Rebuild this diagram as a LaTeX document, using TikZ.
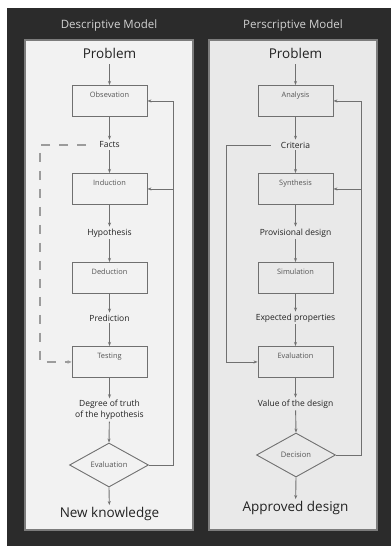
\documentclass[tikz,border=0pt]{standalone}
\usepackage{fontspec}
\setmainfont{Open Sans}
\usetikzlibrary{shapes.geometric,arrows.meta}
\definecolor{bgdark}{HTML}{2B2B2B}
\definecolor{panelL}{HTML}{F2F2F2}
\definecolor{panelR}{HTML}{E9E9E9}
\definecolor{framec}{HTML}{7C7C7C}
\definecolor{linec}{HTML}{707070}
\definecolor{dashc}{HTML}{9C9C9C}
\definecolor{boxtxt}{HTML}{555555}
\definecolor{lbltxt}{HTML}{222222}
\definecolor{titletxt}{HTML}{D2D2D2}
\begin{document}
\begin{tikzpicture}[x=1pt,y=-1pt,
  panel/.style={draw=framec, line width=1.2pt},
  stepbox/.style={draw=linec, line width=0.9pt, minimum width=75pt, inner xsep=0pt, inner ysep=0pt,
    text height=12pt, text depth=19pt, text=boxtxt, font=\fontsize{7.4}{8}\selectfont, anchor=north},
  decide/.style={diamond, draw=linec, line width=0.9pt, minimum width=79pt, minimum height=44pt,
    inner sep=0pt, text=boxtxt, font=\fontsize{7.6}{8}\selectfont},
  lbl/.style={text=lbltxt, font=\fontsize{8.5}{10.5}\selectfont, inner sep=2pt, align=center},
  big/.style={text=lbltxt, font=\fontsize{13.5}{15}\selectfont, inner sep=2pt},
  ttl/.style={text=titletxt, font=\fontsize{11.5}{13}\selectfont, inner sep=0pt},
  arr/.style={draw=linec, line width=0.9pt, -{Stealth[length=4pt,width=3pt]}},
  dashl/.style={draw=dashc, line width=1.4pt, dash pattern=on 9pt off 9pt, -{Stealth[length=4pt,width=3.5pt]}}
]
\useasboundingbox (0,0) rectangle (391,546);
\fill[white] (0,0) rectangle (391,546);
\fill[bgdark] (7,8) rectangle (391,546);
\fill[panelL] (25,40) rectangle (193,530);
\draw[panel] (25,40) rectangle (193,530);
\fill[panelR] (209,40) rectangle (377,530);
\draw[panel] (209,40) rectangle (377,530);

\node[ttl] (t1) at (109,26) {Descriptive Model};
\node[ttl] (t2) at (293,26) {Perscriptive Model};

% Left column
\node[big] (p1) at (109.5,53) {Problem};
\node[stepbox] (obs) at (109.5,85) {Obsevation};
\node[lbl] (facts) at (109.5,145) {Facts};
\node[stepbox] (ind) at (109.5,173) {Induction};
\node[lbl] (hyp) at (109.5,233) {Hypothesis};
\node[stepbox] (ded) at (109.5,262) {Deduction};
\node[lbl] (pred) at (109.5,318) {Prediction};
\node[stepbox] (test) at (109.5,346) {Testing};
\node[lbl] (deg) at (109.5,410) {Degree of truth\\of the hypothesis};
\node[decide] (ev1) at (109,465) {Evaluation};
\node[big] (nk) at (109.5,514) {New knowledge};

\draw[arr,shorten <=4pt] (p1) -- (obs);
\draw[arr] (obs) -- (facts);
\draw[arr] (facts) -- (ind);
\draw[arr] (ind) -- (hyp);
\draw[arr] (hyp) -- (ded);
\draw[arr] (ded) -- (pred);
\draw[arr] (pred) -- (test);
\draw[arr] (test) -- (deg);
\draw[arr] (deg) -- (ev1.north);
\draw[arr] (ev1.south) -- (nk);
\draw[arr] (ev1.east) -| ([xshift=26pt]obs.east) -- (obs.east);
\draw[arr] ([xshift=26pt]ind.east) -- (ind.east);
\coordinate (dL) at (40,145);
\draw[dashl] ([xshift=-11pt]facts.west) -- (dL) |- (test.west);

% Right column
\node[big] (p2) at (295.5,53) {Problem};
\node[stepbox] (ana) at (295.5,85) {Analysis};
\node[lbl] (crit) at (295.5,145) {Criteria};
\node[stepbox] (syn) at (295.5,173) {Synthesis};
\node[lbl] (prov) at (295.5,233) {Provisional design};
\node[stepbox] (sim) at (295.5,262) {Simulation};
\node[lbl] (expp) at (295.5,318) {Expected properties};
\node[stepbox] (ev2) at (295.5,346) {Evaluation};
\node[lbl] (val) at (295.5,404) {Value of the design};
\node[decide] (dec) at (296,455) {Decision};
\node[big] (ad) at (295.5,508) {Approved design};

\draw[arr,shorten <=4pt] (p2) -- (ana);
\draw[arr] (ana) -- (crit);
\draw[arr] (crit) -- (syn);
\draw[arr] (syn) -- (prov);
\draw[arr] (prov) -- (sim);
\draw[arr] (sim) -- (expp);
\draw[arr] (expp) -- (ev2);
\draw[arr] (ev2) -- (val);
\draw[arr] (val) -- (dec.north);
\draw[arr] (dec.south) -- (ad);
\draw[arr] (dec.east) -| ([xshift=28pt]ana.east) -- (ana.east);
\draw[arr] ([xshift=28pt]syn.east) -- (syn.east);
\coordinate (cR) at (226,145);
\draw[arr] ([xshift=-8pt]crit.west) -- (cR) |- (ev2.west);
\end{tikzpicture}
\end{document}
